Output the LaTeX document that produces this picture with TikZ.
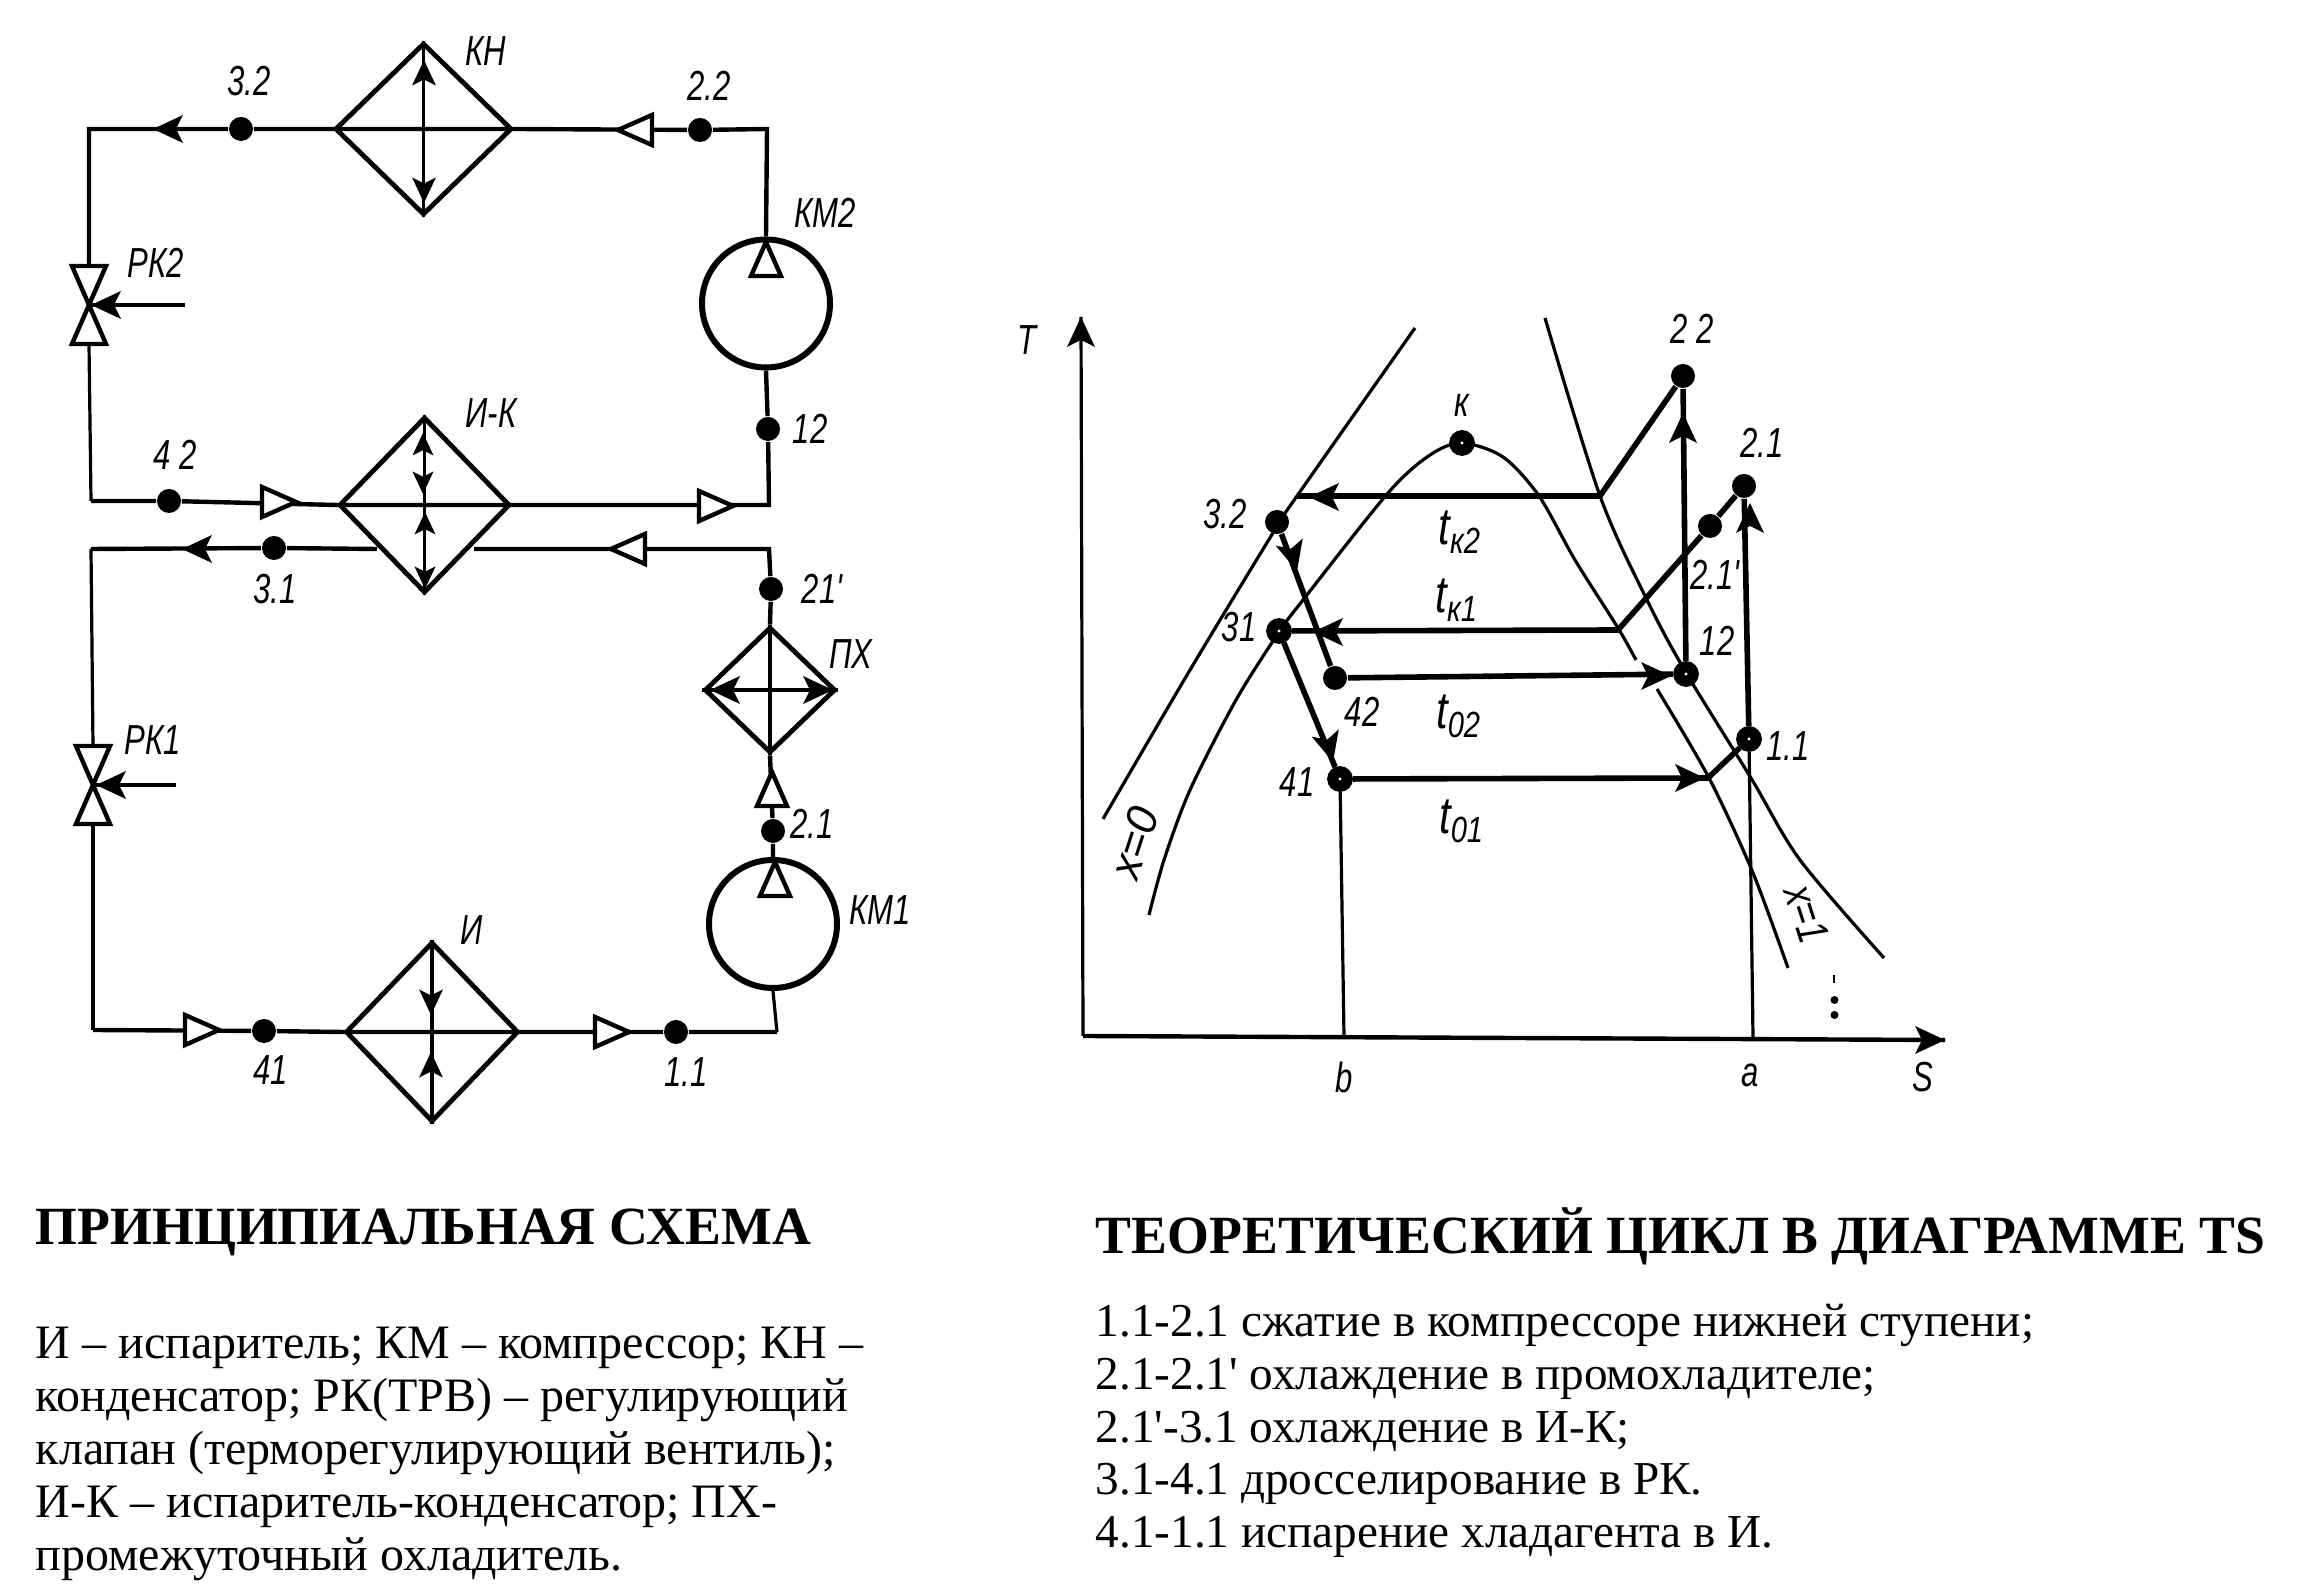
\documentclass[tikz,border=0pt]{standalone}
\usepackage{fontspec}
\usepackage{tikz}
\usetikzlibrary{shapes.geometric}
\setmainfont{Liberation Serif}
\newfontfamily\markfont{Liberation Sans}
\newfontfamily\stepsfont{Liberation Serif}
\tikzset{
    main-line/.style = {line width=1.1pt},
    thin-line/.style = {line width=0.8pt},
    thick-line/.style = {line width=1.4pt},
    exchanger/.style = {draw, diamond, line width=1.2pt, inner sep=0pt},
    compressor/.style = {draw, circle, line width=1.5pt, inner sep=0pt, minimum size=32pt},
    point-dot/.style = {circle, fill=black, inner sep=0pt, minimum size=6pt},
    ring-dot/.style = {circle, draw=black, fill=white, line width=2.8pt, inner sep=0pt, minimum size=3.6pt},
    mark-label/.style = {font=\markfont\itshape\fontsize{10.5}{12}\selectfont, transform shape, xscale=0.74, inner sep=0pt},
    temp-label/.style = {font=\markfont\itshape\fontsize{13}{15}\selectfont, transform shape, xscale=0.8, inner sep=0pt},
    quality-label/.style = {font=\markfont\itshape\fontsize{11}{13}\selectfont, transform shape, inner sep=0pt},
    title-text/.style = {font=\bfseries\fontsize{13.45}{16}\selectfont, inner sep=0pt},
    legend-text/.style = {font=\fontsize{12}{13.2}\selectfont, align=left, inner sep=0pt},
    steps-text/.style = {font=\stepsfont\fontsize{11.8}{13.2}\selectfont, align=left, inner sep=0pt},
    solid-tip/.pic = {\fill (0,0) -- (-30,14) -- (-23,0) -- (-30,-14) -- cycle;},
    open-tip/.pic = {\draw[line width=1.1pt, fill=white] (0,0) -- (-34,15) -- (-34,-15) -- cycle;},
    valve/.pic = {
        \draw[line width=1.1pt, fill=white] (0,0) -- (-17,-39) -- (17,-39) -- cycle;
        \draw[line width=1.1pt, fill=white] (0,0) -- (-17,39) -- (17,39) -- cycle;
        \coordinate (-top) at (0,-39);
        \coordinate (-bot) at (0,39);
        \coordinate (-mid) at (0,0);
    },
}

\begin{document}
\begin{tikzpicture}[x=0.25pt, y=-0.25pt]
\useasboundingbox (0,0) rectangle (2315,1591);

\node[exchanger, minimum width=44.25pt, minimum height=43pt] (kn) at (423.5,129) {};
\node[exchanger, minimum width=42.75pt, minimum height=44pt] (ik) at (424.5,505) {};
\node[exchanger, minimum width=32.75pt, minimum height=31.5pt] (px) at (770,690) {};
\node[exchanger, minimum width=43.25pt, minimum height=45pt] (isp) at (432,1032) {};
\node[compressor] (km2) at (766,303.5) {};
\node[compressor] (km1) at (773,924) {};
\pic (rk2) at (89,305) {valve};
\pic (rk1) at (93,785) {valve};

\node[point-dot] (p32) at (241,129) {};
\node[point-dot] (p22) at (700,130) {};
\node[point-dot] (p42) at (169,501) {};
\node[point-dot] (p12) at (768,429) {};
\node[point-dot] (p31) at (274,548) {};
\node[point-dot] (p21s) at (771,589) {};
\node[point-dot] (p21) at (773,831) {};
\node[point-dot] (p41) at (264,1031) {};
\node[point-dot] (p11) at (676,1032) {};

\coordinate (c1) at (89,129);
\coordinate (c2) at (767,129);
\coordinate (c3) at (91,501);
\coordinate (c4) at (769,505);
\coordinate (c5) at (91,549);
\coordinate (c6) at (769,549);
\coordinate (c7) at (93,1030);
\coordinate (c8) at (777,1032);
\coordinate (ik-in) at (474,549);
\coordinate (ik-out) at (377,549);
\coordinate (rk2-ctl) at (185,305);
\coordinate (rk1-ctl) at (176,785);

\draw[main-line] (km2.north) -- (c2) -- (p22) -- (kn.east) -- (kn.west) -- (p32) -- (c1) -- (rk2-top);
\draw[thin-line] (rk2-bot) -- (c3);
\draw[main-line] (c3) -- (p42) -- (ik.west) -- (ik.east) -- (c4) -- (p12) -- (km2.south);
\draw[main-line] (px.north) -- (p21s) -- (c6) -- (ik-in);
\draw[main-line] (ik-out) -- (p31) -- (c5);
\draw[thin-line] (c5) -- (rk1-top);
\draw[thin-line] (rk1-bot) -- (c7);
\draw[main-line] (c7) -- (p41) -- (isp.west) -- (isp.east) -- (p11) -- (c8);
\draw[thin-line] (c8) -- (km1.south);
\draw[main-line] (km1.north) -- (p21) -- (px.south);

\draw[thin-line] (kn.north) -- (kn.south);
\draw[thin-line] (ik.north) -- (ik.south);
\draw[main-line] (px.north) -- (px.south);
\draw[main-line] (px.west) -- (px.east);
\draw[thin-line] (isp.north) -- (isp.south);
\draw[main-line] (rk2-ctl) -- (rk2-mid);
\draw[main-line] (rk1-ctl) -- (rk1-mid);

\pic[rotate=180] at (153,129) {solid-tip};
\pic[rotate=180] at (618,130) {open-tip};
\pic at (296,502) {open-tip};
\pic at (733,506) {open-tip};
\pic[rotate=180] at (182,549) {solid-tip};
\pic[rotate=180] at (611,549) {open-tip};
\pic at (219,1030) {open-tip};
\pic at (629,1032) {open-tip};
\pic[rotate=90] at (766,242) {open-tip};
\pic[rotate=90] at (772,772) {open-tip};
\pic[rotate=90] at (775,862) {open-tip};
\pic[rotate=90, scale=0.85] at (424,60) {solid-tip};
\pic[rotate=-90, scale=0.85] at (424,203) {solid-tip};
\pic[rotate=90, scale=0.75] at (423,433) {solid-tip};
\pic[rotate=-90, scale=0.75] at (423,494) {solid-tip};
\pic[rotate=90, scale=0.75] at (425,512) {solid-tip};
\pic[rotate=-90, scale=0.75] at (425,589) {solid-tip};
\pic[rotate=-90, scale=0.85] at (431,1015) {solid-tip};
\pic[rotate=90, scale=0.85] at (431,1052) {solid-tip};
\pic[rotate=180] at (710,690) {solid-tip};
\pic at (833,690) {solid-tip};
\pic[rotate=180] at (91,305) {solid-tip};
\pic[rotate=180] at (96,785) {solid-tip};

\node[mark-label] (lb-kn) at (486,51) {КН};
\node[mark-label] (lb-32) at (249,81) {3.2};
\node[mark-label] (lb-22) at (709,86) {2.2};
\node[mark-label] (lb-km2) at (825,213) {КМ2};
\node[mark-label] (lb-rk2) at (156,263) {РК2};
\node[mark-label] (lb-42) at (175,455) {4 2};
\node[mark-label] (lb-ik) at (491,413) {И-К};
\node[mark-label] (lb-12) at (810,429) {12};
\node[mark-label] (lb-31) at (275,589) {3.1};
\node[mark-label] (lb-21s) at (822,589) {21'};
\node[mark-label] (lb-px) at (851,654) {ПХ};
\node[mark-label] (lb-rk1) at (153,740) {РК1};
\node[mark-label] (lb-21) at (812,824) {2.1};
\node[mark-label] (lb-km1) at (880,910) {КМ1};
\node[mark-label] (lb-isp) at (472,930) {И};
\node[mark-label] (lb-41) at (271,1070) {41};
\node[mark-label] (lb-11) at (686,1072) {1.1};

\coordinate (origin) at (1083,1036);
\coordinate (t-end) at (1081,317);
\coordinate (s-end) at (1945,1040);
\draw[thin-line] (origin) -- (t-end);
\draw[main-line] (origin) -- (s-end);
\pic[rotate=90] at (t-end) {solid-tip};
\pic at (s-end) {solid-tip};

\draw[thin-line] plot[smooth, tension=0.5] coordinates {(1415,328) (1297,496) (1276,528) (1190,670) (1103,819)};
\draw[thin-line] plot[smooth, tension=0.5] coordinates {(1545,318) (1600,496) (1647,600) (1685,671) (1751,778) (1800,860) (1884,958)};
\draw[thin-line] plot[smooth, tension=0.5] coordinates {(1149,915) (1164,860) (1190,790) (1236,700) (1279,632) (1303,600) (1388,493) (1430,455) (1462,443) (1503,457) (1539,496) (1575,560) (1618,628) (1636,660)};
\draw[thin-line] plot[smooth, tension=0.5] coordinates {(1657,689) (1709,778) (1753,873) (1788,968)};

\node[ring-dot] (pk) at (1462,443) {};
\node[point-dot] (t22) at (1683,376) {};
\node[point-dot] (t21) at (1744,486) {};
\node[point-dot] (t21s) at (1710,526) {};
\node[point-dot] (t32) at (1277,522) {};
\node[ring-dot] (t31) at (1279,631) {};
\node[point-dot] (t42) at (1335,678) {};
\node[ring-dot] (t12) at (1686,674) {};
\node[ring-dot] (t11) at (1749,739) {};
\node[ring-dot] (t41) at (1340,779) {};

\coordinate (k2-r) at (1600,496);
\coordinate (k2-l) at (1297,496);
\coordinate (k1-r) at (1618,630);
\coordinate (o1-r) at (1708,778);
\coordinate (axis-b) at (1344,1036);
\coordinate (axis-a) at (1753,1037);

\draw[thick-line] (t22) -- (k2-r) -- (k2-l);
\draw[thick-line] (t21) -- (t21s) -- (k1-r) -- (t31);
\draw[thick-line] (t32) -- (t42) -- (t12) -- (t22);
\draw[thick-line] (t31) -- (t41) -- (o1-r) -- (t11) -- (t21);
\draw[thin-line] (t41) -- (axis-b);
\draw[thin-line] (t11) -- (axis-a);

\pic[rotate=180] at (1309,497) {solid-tip};
\pic[rotate=-75] at (1297,571) {solid-tip};
\pic[rotate=180] at (1313,632) {solid-tip};
\pic[rotate=-75] at (1333,762) {solid-tip};
\pic at (1671,676) {solid-tip};
\pic at (1705,778) {solid-tip};
\pic[rotate=90] at (1683,413) {solid-tip};
\pic[rotate=90] at (1750,503) {solid-tip};

\fill (1833,975) rectangle (1835,983);
\foreach \dy in {1000,1015}
    \fill (1834.5,\dy) circle (1pt);

\node[mark-label] (lb-t) at (1027,340) {T};
\node[mark-label] (lb-k) at (1462,405) {к};
\node[mark-label] (lb-t22) at (1692,329) {2 2};
\node[mark-label] (lb-t21) at (1762,443) {2.1};
\node[mark-label] (lb-t32) at (1225,514) {3.2};
\node[temp-label] (lb-tk2) at (1460,532) {t\textsubscript{к2}};
\node[temp-label] (lb-tk1) at (1457,600) {t\textsubscript{к1}};
\node[mark-label] (lb-t21s) at (1715,575) {2.1'};
\node[mark-label] (lb-t12) at (1717,641) {12};
\node[mark-label] (lb-t31) at (1239,627) {31};
\node[mark-label] (lb-t42) at (1362,712) {42};
\node[temp-label] (lb-to2) at (1459,716) {t\textsubscript{02}};
\node[mark-label] (lb-t11) at (1788,746) {1.1};
\node[mark-label] (lb-t41) at (1297,782) {41};
\node[temp-label] (lb-to1) at (1462,821) {t\textsubscript{01}};
\node[quality-label, rotate=72] (lb-x0) at (1134,843) {x=0};
\node[quality-label, rotate=-72, xscale=0.8] (lb-x1) at (1807,914) {x=1};
\node[mark-label] (lb-b) at (1344,1077) {b};
\node[mark-label] (lb-a) at (1750,1075) {a};
\node[mark-label] (lb-s) at (1923,1077) {S};

\node[title-text, anchor=west] (title-left) at (35,1232) {ПРИНЦИПИАЛЬНАЯ СХЕМА};
\node[title-text, anchor=west] (title-right) at (1095,1236) {ТЕОРЕТИЧЕСКИЙ ЦИКЛ В ДИАГРАММЕ TS};
\node[legend-text, anchor=west] (legend) at (35,1454) {И – испаритель; КМ – компрессор; КН –\\
конденсатор; РК(ТРВ) – регулирующий\\
клапан (терморегулирующий вентиль);\\
И-К – испаритель-конденсатор; ПХ-\\
промежуточный охладитель.};
\node[steps-text, anchor=west] (steps) at (1095,1431) {1.1-2.1 сжатие в компрессоре нижней ступени;\\
2.1-2.1' охлаждение в промохладителе;\\
2.1'-3.1 охлаждение в И-К;\\
3.1-4.1 дросселирование в РК.\\
4.1-1.1 испарение хладагента в И.};
\end{tikzpicture}
\end{document}
